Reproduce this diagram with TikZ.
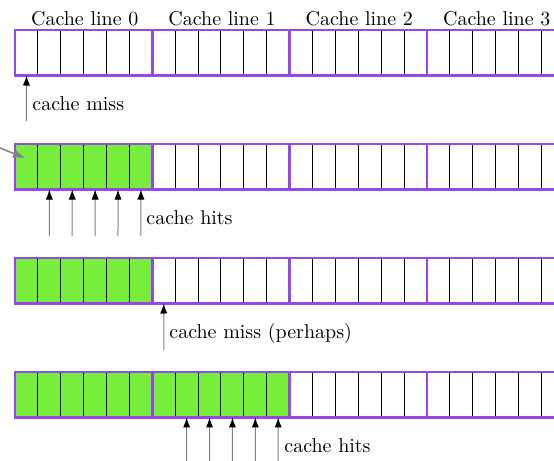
\documentclass[tikz,border=0pt]{standalone}
\usetikzlibrary{arrows.meta}
\definecolor{lpurple}{RGB}{148,72,232}
\definecolor{lgreen}{RGB}{120,238,60}
\begin{document}
\begin{tikzpicture}[x=0.5pt,y=-0.5pt,
  cell/.style={draw=black, line width=0.5pt, minimum width=11.445pt, minimum height=22.75pt,
    inner sep=0pt, outer sep=0pt, anchor=north west},
  lineframe/.style={draw=lpurple, line width=1.2pt},
  hitarrow/.style={draw=black!50, line width=0.5pt, -{Latex[black,length=5pt,width=3.6pt]}},
  ptrarrow/.style={draw=black!50, line width=0.7pt, -{Latex[black!50,length=6pt,width=4.5pt]}},
  lbl/.style={anchor=base west, inner sep=0pt},
  head/.style={anchor=base, inner sep=0pt}]
\useasboundingbox (0,0) rectangle (554,461);
\clip (0,0) rectangle (554,461);
% cells
\foreach \r/\g in {1/0,2/6,3/6,4/12}{
  \foreach \c in {0,...,25}{
    \ifnum\c<\g\relax \def\fc{lgreen}\else\def\fc{white}\fi
    \node[cell, fill=\fc] (r\r c\c) at ({15+\c*22.889},{30+(\r-1)*114}) {};
  }
  \foreach \k in {0,...,4}{
    \draw[lineframe] ({15+\k*137.333},{30+(\r-1)*114}) rectangle +(137.333,45.5);
  }
}
% headings
\node[head] (h0) at (84.7,25) {Cache line 0};
\node[head] (h1) at (222.0,25) {Cache line 1};
\node[head] (h2) at (359.3,25) {Cache line 2};
\node[head] (h3) at (496.7,25) {Cache line 3};
% row 1
\coordinate (s1) at (26.4,121);
\draw[hitarrow] (s1) -- (r1c0.south);
\node[lbl] (t1) at (32,110) {cache miss};
% row 2
\coordinate (p0) at (-30,136);
\coordinate (p1) at (25,158);
\draw[ptrarrow] (p0) -- (p1);
\foreach \c in {1,...,5}{
  \coordinate (s2\c) at ({15+(\c+0.5)*22.889},236);
  \draw[hitarrow] (s2\c) -- (r2c\c.south);
}
\node[lbl] (t2) at (146,224) {cache hits};
% row 3
\coordinate (s3) at (163.8,350);
\draw[hitarrow] (s3) -- (r3c6.south);
\node[lbl] (t3) at (169,338) {cache miss (perhaps)};
% row 4
\foreach \c in {7,...,11}{
  \coordinate (s4\c) at ({15+(\c+0.5)*22.889},464);
  \draw[hitarrow] (s4\c) -- (r4c\c.south);
}
\node[lbl] (t4) at (284,452) {cache hits};
\end{tikzpicture}
\end{document}
